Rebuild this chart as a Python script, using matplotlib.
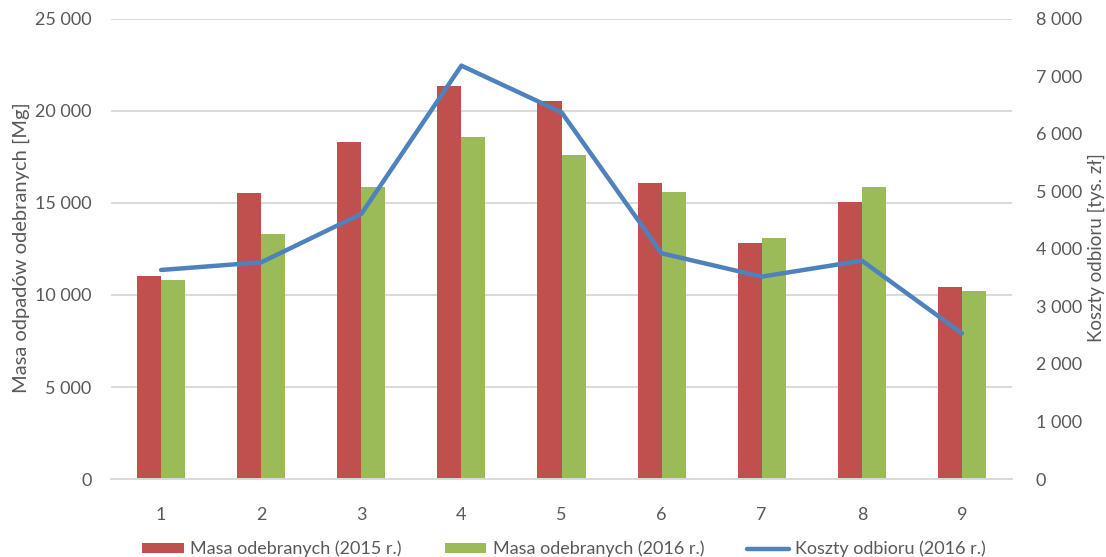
import matplotlib
matplotlib.use("Agg")
import matplotlib.pyplot as plt
import numpy as np

categories = ["1", "2", "3", "4", "5", "6", "7", "8", "9"]
mass_2015 = [11050, 15560, 18300, 21340, 20530, 16090, 12810, 15050, 10420]
mass_2016 = [10800, 13320, 15850, 18600, 17610, 15600, 13100, 15890, 10220]
costs_2016 = [3635, 3768, 4609, 7188, 6377, 3925, 3519, 3797, 2534]

left_ticks = [0, 5000, 10000, 15000, 20000, 25000]
right_ticks = [0, 1000, 2000, 3000, 4000, 5000, 6000, 7000, 8000]

def fmt(v):
    return f"{v:,}".replace(",", " ")

plt.rcParams['font.family'] = ['Lato', 'DejaVu Sans']
grey = "#595959"

fig = plt.figure(figsize=(11.06, 5.57), dpi=100)
ax = fig.add_axes([0.1004, 0.140, 0.8146, 0.826])
ax2 = ax.twinx()

x = np.arange(1, len(categories) + 1)
w = 0.24
b1 = ax.bar(x - w / 2, mass_2015, w, color="#C0504D", label="Masa odebranych (2015 r.)", zorder=2)
b2 = ax.bar(x + w / 2, mass_2016, w, color="#9BBB59", label="Masa odebranych (2016 r.)", zorder=2)
l1, = ax2.plot(x, costs_2016, color="#4F81BD", lw=3.2, label="Koszty odbioru (2016 r.)",
               solid_capstyle="round", solid_joinstyle="round")

ax.set_xlim(0.5, 9.5)
ax.set_ylim(0, 25000)
ax2.set_ylim(0, 8000)
ax.set_xticks(x)
ax.set_xticklabels(categories)
ax.set_yticks(left_ticks)
ax.set_yticklabels([fmt(v) for v in left_ticks])
ax2.set_yticks(right_ticks)
ax2.set_yticklabels([fmt(v) for v in right_ticks])

ax.yaxis.grid(True, color="#D9D9D9", lw=1.4, zorder=0)
ax.set_axisbelow(True)
for a in (ax, ax2):
    for s in a.spines.values():
        s.set_visible(False)
    a.tick_params(length=0, labelsize=13, colors=grey)
ax.spines['bottom'].set_visible(True)
ax.spines['bottom'].set_color("#D9D9D9")
ax.spines['bottom'].set_linewidth(1.4)
ax.tick_params(axis='x', pad=20)
ax.tick_params(axis='y', pad=14)
ax2.tick_params(axis='y', pad=17)

fig.text(21 / 1106, 0.555, "Masa odpadów odebranych [Mg]", fontsize=14.5, color=grey,
         rotation=90, ha="center", va="center")
fig.text(1096 / 1106, 0.555, "Koszty odbioru [tys. zł]", fontsize=13.5, color=grey,
         rotation=90, ha="center", va="center")

fig.legend(handles=[b1, b2, l1], loc="lower center", ncol=3, frameon=False,
           bbox_to_anchor=(0.51, -0.03), fontsize=13, handlelength=2.3, handleheight=0.5,
           columnspacing=2.4, handletextpad=0.35, labelcolor=grey)

fig.savefig("out.png", dpi=100)
